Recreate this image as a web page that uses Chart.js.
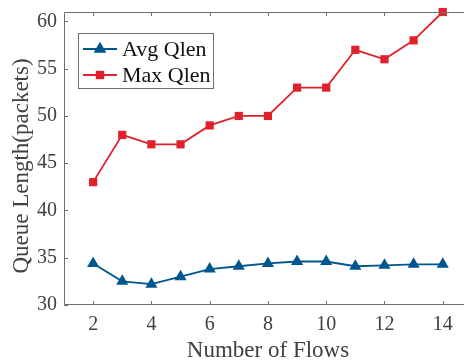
<!DOCTYPE html>
<html>
<head>
<meta charset="utf-8">
<script src="https://cdn.jsdelivr.net/npm/chart.js@4"></script>
<style>
  body { margin: 0; background: #fff; }
  #wrap { width: 464px; height: 362px; }
</style>
</head>
<body>
<div id="wrap"><canvas id="myChart" width="464" height="362"></canvas></div>
<script>
// data
const flows = [2, 3, 4, 5, 6, 7, 8, 9, 10, 11, 12, 13, 14]
const avgQlen = [34.4, 32.5, 32.2, 33.0, 33.8, 34.1, 34.4, 34.6, 34.6, 34.1, 34.2, 34.3, 34.3]
const maxQlen = [43, 48, 47, 47, 49, 50, 50, 53, 53, 57, 56, 58, 61]
const xTicks = [2, 4, 6, 8, 10, 12, 14]
const yTicks = [30, 35, 40, 45, 50, 55, 60]
const xTitle = 'Number of Flows'
const yTitle = 'Queue Length(packets)'

const BLUE = '#00568f'
const RED = '#e0212b'
const AXIS = '#6e6e6e'
const TEXT = '#404040'
const FONT = '"Liberation Serif", "Times New Roman", serif'

// matlab style box (the right side is cut off in the figure) + inward ticks
const framePlugin = {
    id: 'frame',
    afterDraw(chart){
        const {ctx, chartArea: a, scales} = chart
        ctx.save()
        ctx.strokeStyle = AXIS
        ctx.lineWidth = 1
        ctx.beginPath()
        ctx.moveTo(a.right, a.top + 0.5)
        ctx.lineTo(a.left + 0.5, a.top + 0.5)
        ctx.lineTo(a.left + 0.5, a.bottom - 0.5)
        ctx.lineTo(a.right, a.bottom - 0.5)
        const t = 4
        xTicks.forEach(v=>{
            let x = Math.round(scales.x.getPixelForValue(v)) + 0.5
            ctx.moveTo(x, a.bottom); ctx.lineTo(x, a.bottom - t)
            ctx.moveTo(x, a.top); ctx.lineTo(x, a.top + t)
        })
        yTicks.forEach(v=>{
            let y = Math.round(scales.y.getPixelForValue(v)) + 0.5
            ctx.moveTo(a.left, y); ctx.lineTo(a.left + t, y)
        })
        ctx.stroke()

        // axis titles (centred on the full matlab axes, which run past the crop)
        ctx.font = '23px ' + FONT
        ctx.fillStyle = TEXT
        ctx.textAlign = 'center'
        ctx.textBaseline = 'alphabetic'
        ctx.fillText(xTitle, 268, 357)
        ctx.save()
        ctx.translate(22, 166)
        ctx.rotate(-Math.PI / 2)
        ctx.textBaseline = 'middle'
        ctx.fillText(yTitle, 0, 0)
        ctx.restore()

        // legend
        const lx = 78, ly = 33, lw = 135, lh = 55
        ctx.fillStyle = '#fff'
        ctx.fillRect(lx, ly, lw, lh)
        ctx.strokeStyle = '#707070'
        ctx.lineWidth = 1
        ctx.strokeRect(lx + 0.5, ly + 0.5, lw, lh)
        const rows = [[0, 49], [1, 75]]
        ctx.font = '22px ' + FONT
        ctx.textAlign = 'left'
        ctx.textBaseline = 'middle'
        rows.forEach(([i, y])=>{
            const ds = chart.data.datasets[i]
            ctx.strokeStyle = ds.borderColor
            ctx.lineWidth = 1.8
            ctx.beginPath()
            ctx.moveTo(83, y); ctx.lineTo(117, y)
            ctx.stroke()
            ctx.fillStyle = ds.backgroundColor
            Chart.helpers.drawPoint(ctx, {pointStyle: ds.pointStyle, radius: ds.pointRadius, borderWidth: 0}, 100, y)
            ctx.fill()
            ctx.fillStyle = '#111'
            ctx.fillText(ds.label, 122, y + 1)
        })
        ctx.restore()
    }
}

const ctx = document.getElementById('myChart')
const myChart = new Chart(ctx, {
    type: 'line',
    data: {
        datasets: [{
            label: 'Avg Qlen',
            data: flows.map((f, i)=>({x: f, y: avgQlen[i]})),
            borderColor: BLUE,
            backgroundColor: BLUE,
            borderWidth: 1.8,
            pointStyle: 'triangle',
            pointRadius: 7,
            pointBorderWidth: 0,
            tension: 0,
            clip: 10
        }, {
            label: 'Max Qlen',
            data: flows.map((f, i)=>({x: f, y: maxQlen[i]})),
            borderColor: RED,
            backgroundColor: RED,
            borderWidth: 1.8,
            pointStyle: 'rect',
            pointRadius: 5.8,
            pointBorderWidth: 0,
            tension: 0,
            clip: 10
        }]
    },
    options: {
        responsive: false,
        animation: false,
        events: [],
        layout: { autoPadding: false, padding: { top: 12, right: 0, left: 0, bottom: 0 } },
        plugins: { legend: { display: false }, tooltip: { enabled: false } },
        scales: {
            x: {
                type: 'linear',
                min: 1,
                max: 14.73,
                afterBuildTicks: s=>{ s.ticks = xTicks.map(v=>({value: v})) },
                afterFit: s=>{ s.height = 57; s.paddingLeft = 0; s.paddingRight = 0 },
                grid: { display: false, drawTicks: false, tickLength: 0 },
                border: { display: false },
                ticks: { color: TEXT, font: { family: FONT, size: 20 }, padding: 8, maxRotation: 0 }
            },
            y: {
                min: 30,
                max: 61,
                afterBuildTicks: s=>{ s.ticks = yTicks.map(v=>({value: v})) },
                afterFit: s=>{ s.width = 64; s.paddingTop = 0; s.paddingBottom = 0 },
                grid: { display: false, drawTicks: false, tickLength: 0 },
                border: { display: false },
                ticks: { color: TEXT, font: { family: FONT, size: 20 }, padding: 7 }
            }
        }
    },
    plugins: [framePlugin]
})
</script>
</body>
</html>
